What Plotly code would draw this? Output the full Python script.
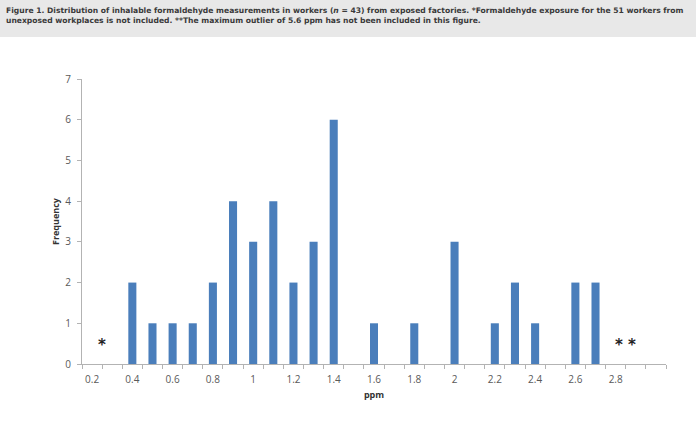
import plotly.graph_objects as go

ppm_bins = [0.2, 0.3, 0.4, 0.5, 0.6, 0.7, 0.8, 0.9, 1.0, 1.1, 1.2, 1.3, 1.4, 1.5, 1.6,
            1.7, 1.8, 1.9, 2.0, 2.1, 2.2, 2.3, 2.4, 2.5, 2.6, 2.7, 2.8, 2.9, 3.0]
frequency = [0, 0, 2, 1, 1, 1, 2, 4, 3, 4, 2, 3, 6, 0, 1,
             0, 1, 0, 3, 0, 1, 2, 1, 0, 2, 2, 0, 0, 0]
x_tick_vals = [0.2, 0.4, 0.6, 0.8, 1.0, 1.2, 1.4, 1.6, 1.8, 2.0, 2.2, 2.4, 2.6, 2.8]
x_tick_text = ["0.2", "0.4", "0.6", "0.8", "1", "1.2", "1.4", "1.6", "1.8", "2", "2.2", "2.4", "2.6", "2.8"]
y_ticks = [0, 1, 2, 3, 4, 5, 6, 7]
markers = [("*", 0.25, 0.47), ("* *", 2.85, 0.47)]

title_text = ("<b>Figure 1. Distribution of inhalable formaldehyde measurements in workers (<i>n</i> = 43) from exposed factories. *Formaldehyde exposure for the 51 workers from<br>"
              "unexposed workplaces is not included. **The maximum outlier of 5.6 ppm has not been included in this figure.</b>")

W, H = 696, 446
L, R, T, B = 82, 30, 79, 82
ph = H - T - B

fig = go.Figure()
fig.add_trace(go.Bar(x=ppm_bins, y=frequency, width=0.04,
                     marker=dict(color="#4a7ebb", line=dict(width=0))))

fig.add_shape(type="rect", xref="paper", yref="paper",
              x0=-L / (W - L - R), x1=(W - L) / (W - L - R),
              y0=1 + (T - 37) / ph, y1=1 + T / ph,
              fillcolor="#e8e8e8", line=dict(width=0), layer="below")

fig.add_annotation(text=title_text, xref="paper", yref="paper",
                   x=(4 - L) / (W - L - R), y=1 + (T - 4) / ph,
                   xanchor="left", yanchor="top", align="left", showarrow=False,
                   font=dict(family="DejaVu Sans", size=7.6, color="#3a3a3a"))

for txt, mx, my in markers:
    fig.add_annotation(text="<b>" + txt + "</b>", x=mx, y=my, xref="x", yref="y", showarrow=False,
                       font=dict(family="DejaVu Sans", size=15, color="#222222"))

fig.update_layout(
    width=W, height=H,
    margin=dict(l=L, r=R, t=T, b=B),
    paper_bgcolor="white", plot_bgcolor="white",
    showlegend=False,
    xaxis=dict(range=[0.15, 3.05], tickvals=x_tick_vals, ticktext=x_tick_text,
               ticks="", showgrid=False, zeroline=False,
               showline=True, linecolor="#b3b3b3", linewidth=1,
               ticklabelstandoff=6,
               tickfont=dict(family="Open Sans", size=10, color="#595959"),
               minor=dict(tick0=0.15, dtick=0.1, ticks="outside", ticklen=4,
                          tickcolor="#b3b3b3", showgrid=False),
               title=dict(text="<b>ppm</b>", standoff=6,
                          font=dict(family="Open Sans", size=9, color="#333333"))),
    yaxis=dict(range=[0, 7], tickvals=y_ticks, ticks="outside", ticklen=4,
               tickcolor="#b3b3b3", showgrid=False, zeroline=False,
               showline=True, linecolor="#b3b3b3", linewidth=1,
               ticklabelstandoff=4,
               tickfont=dict(family="Open Sans", size=10, color="#595959"),
               title=dict(text="<b>Frequency</b>", standoff=4,
                          font=dict(family="Open Sans", size=9, color="#333333"))),
)

fig.write_html("out.html")
